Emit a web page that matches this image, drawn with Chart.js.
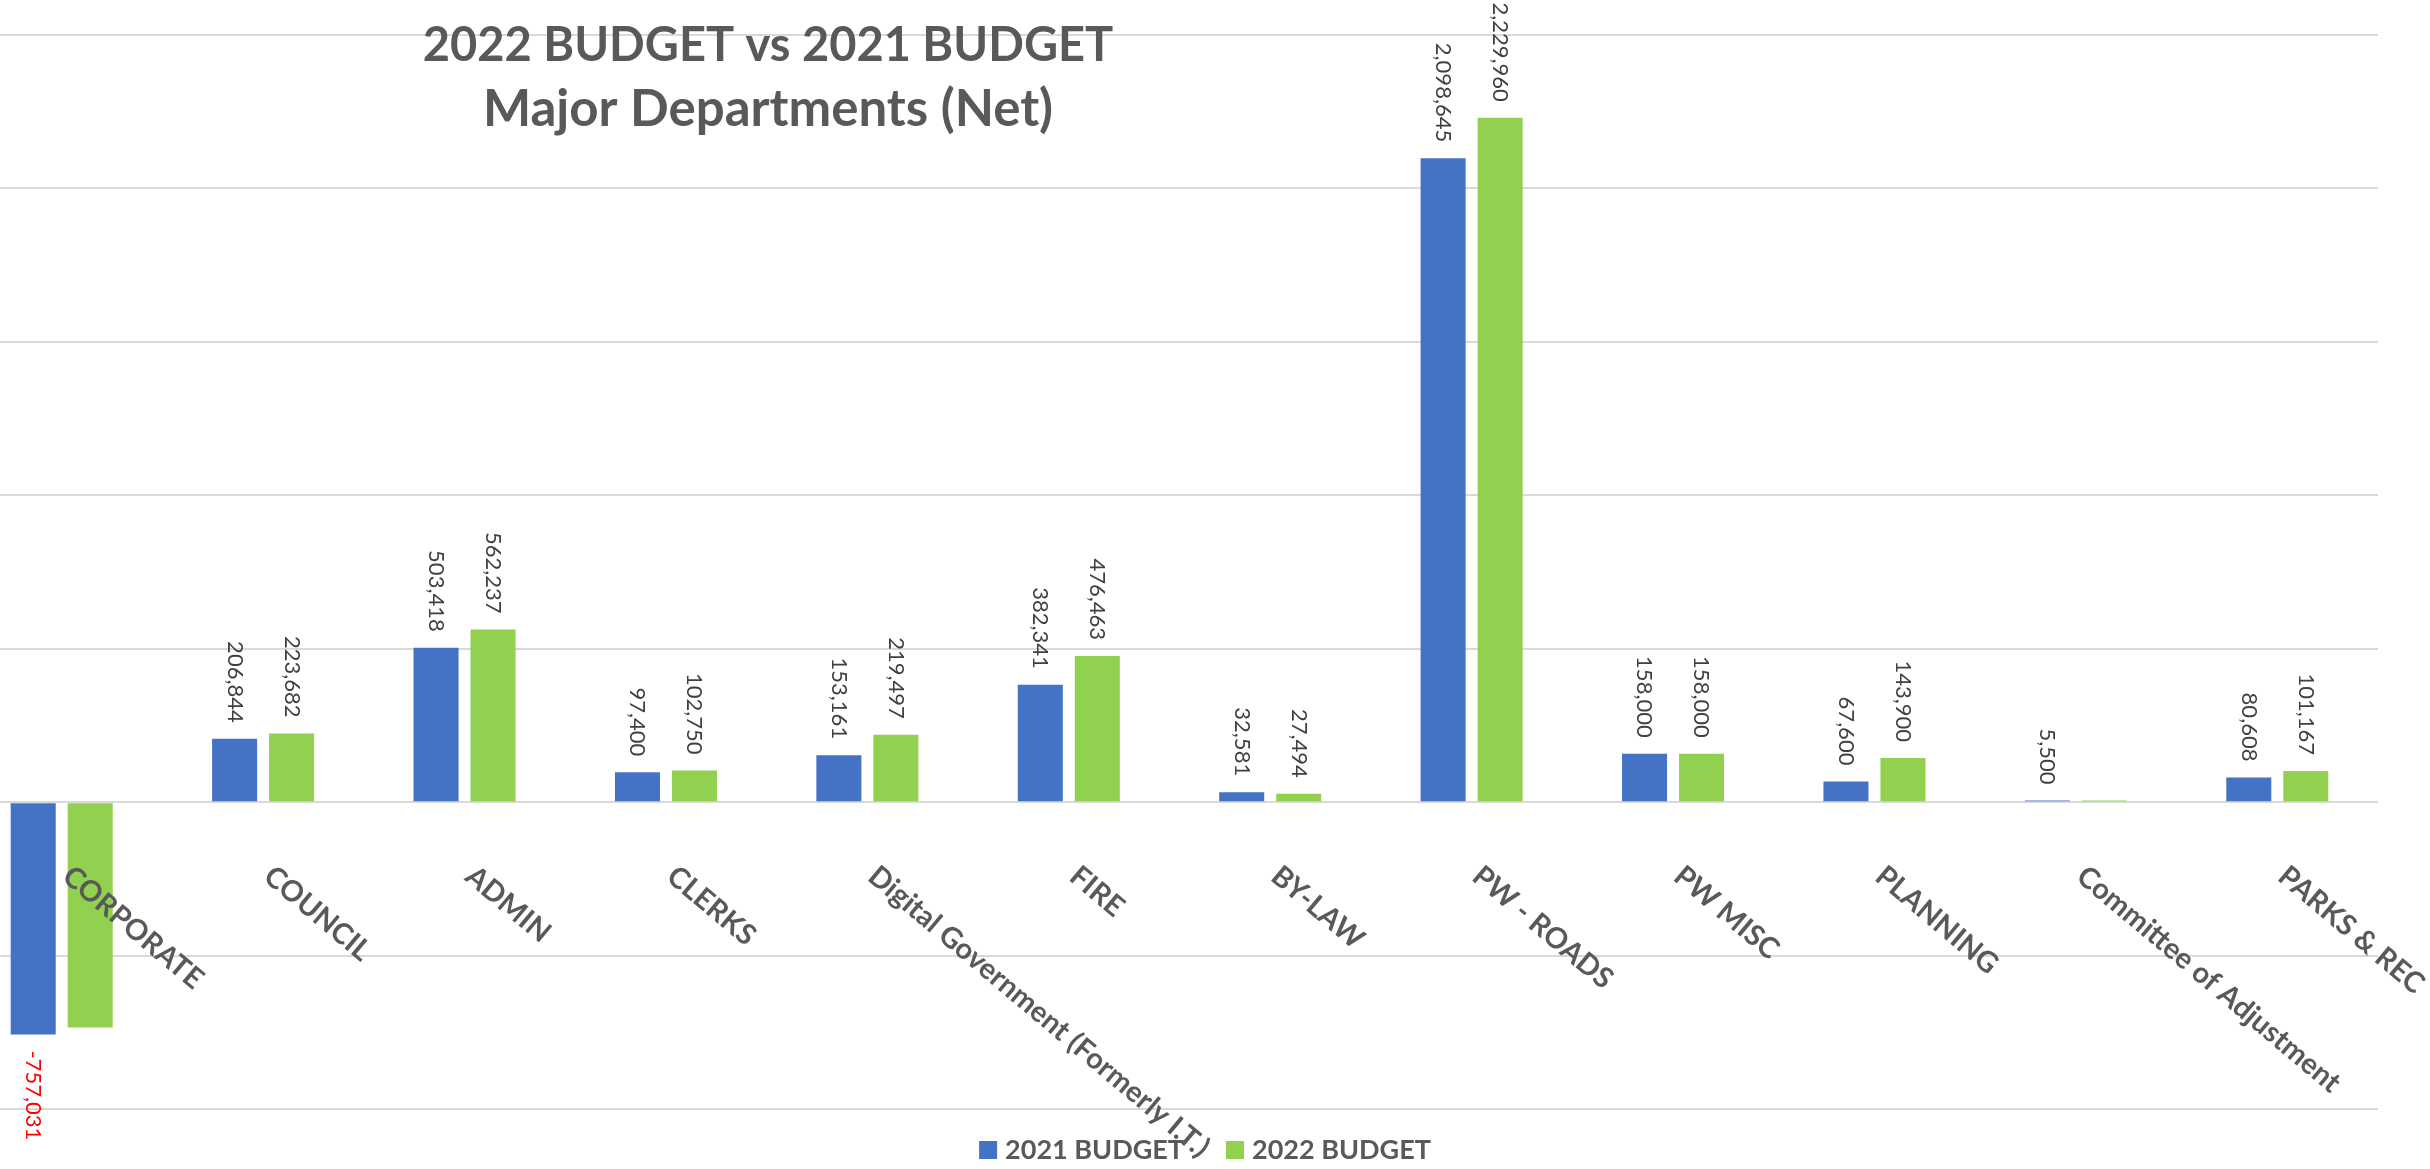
<!DOCTYPE html>
<html>
<head>
<meta charset="utf-8">
<script src="https://cdn.jsdelivr.net/npm/chart.js@4.4.0/dist/chart.umd.min.js"></script>
<style>
    html, body { margin: 0; padding: 0; background: #ffffff; overflow: hidden; }
    #wrap { position: absolute; left: -39px; top: 0; width: 2500px; height: 1169px; }
</style>
</head>
<body>
<div id="wrap"><canvas id="myChart"></canvas></div>
<script>
// departments along the x axis
const departments = ['CORPORATE', 'COUNCIL', 'ADMIN', 'CLERKS', 'Digital Government (Formerly I.T.)', 'FIRE',
    'BY-LAW', 'PW - ROADS', 'PW MISC', 'PLANNING', 'Committee of Adjustment', 'PARKS & REC'];
const budget2021 = [-757031, 206844, 503418, 97400, 153161, 382341, 32581, 2098645, 158000, 67600, 5500, 80608];
const budget2022 = [-734000, 223682, 562237, 102750, 219497, 476463, 27494, 2229960, 158000, 143900, 5000, 101167];
// no value printed for these in the 2022 series
const unlabelled2022 = ['CORPORATE', 'Committee of Adjustment'];
const seriesNames = ['2021 BUDGET', '2022 BUDGET'];
const seriesColors = ['#4472C4', '#92D050'];
const titleLines = ['2022 BUDGET vs 2021 BUDGET', 'Major Departments (Net)'];
const yMin = -1000000;
const yMax = 2500000;
const yStep = 500000;

// value labels, turned 90 degrees, above (or below) each bar
const valueLabels = {
    id: 'valueLabels',
    afterDatasetsDraw(chart) {
        let ctx = chart.ctx;
        ctx.save();
        ctx.font = '22px Lato';
        ctx.textBaseline = 'middle';
        chart.data.datasets.forEach((ds, i) => {
            chart.getDatasetMeta(i).data.forEach((bar, j) => {
                if (i === 1 && unlabelled2022.includes(departments[j])) return;
                let v = ds.data[j];
                ctx.save();
                if (v >= 0) {
                    ctx.translate(bar.x, bar.y - 16);
                    ctx.textAlign = 'right';
                    ctx.fillStyle = '#404040';
                } else {
                    ctx.translate(bar.x, bar.y + 16);
                    ctx.textAlign = 'left';
                    ctx.fillStyle = '#FF0000';
                }
                ctx.rotate(Math.PI / 2);
                ctx.fillText(v.toLocaleString('en-US'), 0, 0);
                ctx.restore();
            });
        });
        ctx.restore();
    }
};

// slanted category names under the zero line, title and legend
const overlay = {
    id: 'overlay',
    afterDraw(chart) {
        let ctx = chart.ctx;
        let x = chart.scales.x;
        let y = chart.scales.y;
        let zero = y.getPixelForValue(0);
        ctx.save();
        ctx.fillStyle = '#595959';

        ctx.font = 'bold 29px Lato';
        ctx.textAlign = 'left';
        ctx.textBaseline = 'middle';
        departments.forEach((name, i) => {
            ctx.save();
            ctx.translate(x.getPixelForValue(i) + 5, zero + 70);
            ctx.rotate(40 * Math.PI / 180);
            ctx.fillText(name, 0, 0);
            ctx.restore();
        });

        // title
        ctx.textAlign = 'center';
        ctx.textBaseline = 'alphabetic';
        ctx.font = 'bold 47px Lato';
        ctx.fillText(titleLines[0], 807, 61);
        ctx.font = 'bold 51px Lato';
        ctx.fillText(titleLines[1], 807, 126);

        // legend
        ctx.font = 'bold 27px Lato';
        ctx.textAlign = 'left';
        let gap = 42;
        let widths = seriesNames.map(n => 18 + 8 + ctx.measureText(n).width);
        let total = widths[0] + gap + widths[1];
        let lx = 1205 + 39 - total / 2;
        seriesNames.forEach((n, i) => {
            ctx.fillStyle = seriesColors[i];
            ctx.fillRect(lx, 1141, 18, 18);
            ctx.fillStyle = '#595959';
            ctx.fillText(n, lx + 26, 1159);
            lx += widths[i] + gap;
        });
        ctx.restore();
    }
};

let ctx = document.getElementById('myChart').getContext('2d');
let budgetChart = new Chart(ctx, {
    type: 'bar',
    data: {
        labels: departments,
        datasets: [{
            label: seriesNames[0],
            data: budget2021,
            backgroundColor: seriesColors[0]
        }, {
            label: seriesNames[1],
            data: budget2022,
            backgroundColor: seriesColors[1]
        }]
    },
    options: {
        responsive: true,
        maintainAspectRatio: false,
        animation: false,
        layout: { padding: { top: 35, bottom: 60, left: 0, right: 83 } },
        datasets: {
            bar: { categoryPercentage: 0.566, barPercentage: 0.79 }
        },
        plugins: {
            legend: { display: false },
            title: { display: false },
            tooltip: { enabled: false }
        },
        scales: {
            x: { display: false },
            y: {
                min: yMin,
                max: yMax,
                ticks: { display: false, stepSize: yStep },
                grid: { color: '#D9D9D9', lineWidth: 2, drawTicks: false },
                border: { display: false }
            }
        }
    },
    plugins: [valueLabels, overlay]
});
</script>
</body>
</html>
